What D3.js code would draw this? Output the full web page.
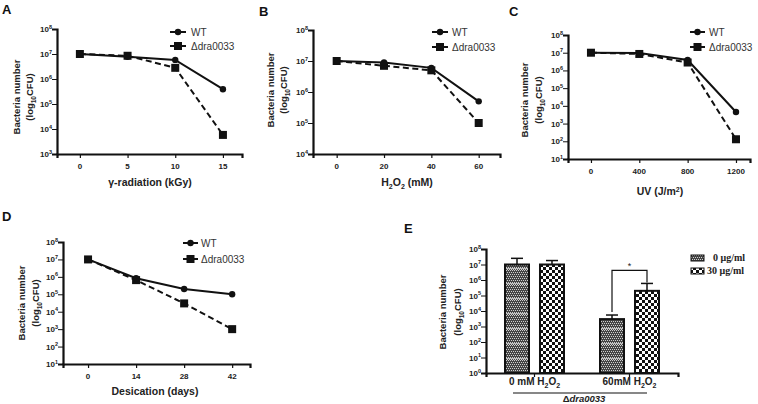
<!DOCTYPE html>
<html><head><meta charset="utf-8">
<script src="https://cdn.jsdelivr.net/npm/d3@7"></script>
<style>body{margin:0;background:#fff}svg{display:block;font-family:"Liberation Sans",Arial,sans-serif}</style>
</head><body>
<svg id="c" width="758" height="404"></svg>
<script>
// ---- data ----
const gammaDose = [0, 5, 10, 15];
const gammaWT   = [1e7, 7.7e6, 5.8e6, 3.9e5];
const gammaMut  = [1e7, 8.5e6, 2.8e6, 5.8e3];
const h2o2Dose  = [0, 20, 40, 60];
const h2o2WT    = [1e7, 9e6, 6e6, 5e5];
const h2o2Mut   = [1e7, 7e6, 5e6, 1e5];
const uvDose    = [0, 400, 800, 1200];
const uvWT      = [1e7, 9.5e6, 3.9e6, 4.5e3];
const uvMut     = [1e7, 8.5e6, 2.8e6, 1.3e2];
const desDays   = [0, 14, 28, 42];
const desWT     = [1e7, 8.4e5, 2e5, 1e5];
const desMut    = [1e7, 6.5e5, 3e4, 1e3];
const seriesNames = ["WT", "\u0394dra0033"];
const eGroups   = ["0 mM", "60mM"];
const eSeries   = ["0 \u03bcg/ml", "30 \u03bcg/ml"];
const eMean0    = [1e7, 3e3];
const eErr0     = [2.5e7, 5.5e3];
const eMean30   = [1e7, 2e5];
const eErr30    = [1.8e7, 6e5];

const svg = d3.select("#c");
const defs = svg.append("defs");
// patterns
const p1 = defs.append("pattern").attr("id","pat1").attr("patternUnits","userSpaceOnUse").attr("width",2).attr("height",15);
p1.append("rect").attr("width",2).attr("height",15).attr("fill","#444");
for (let y=0;y<15;y+=2){ p1.append("rect").attr("x",(y/2)%2).attr("y",y).attr("width",1).attr("height",1).attr("fill","#cfcfcf"); }
p1.append("rect").attr("y",13).attr("width",2).attr("height",1).attr("fill","#bcbcbc");
const p2 = defs.append("pattern").attr("id","pat2").attr("patternUnits","userSpaceOnUse").attr("width",6).attr("height",6);
p2.append("rect").attr("width",6).attr("height",6).attr("fill","#fff");
p2.append("rect").attr("width",3).attr("height",3).attr("fill","#111");
p2.append("rect").attr("x",3).attr("y",3).attr("width",3).attr("height",3).attr("fill","#111");

function powLabel(g, x, y, e, anchor) {
  const t = g.append("text").attr("x",x).attr("y",y).attr("text-anchor",anchor||"end")
    .attr("font-size",8).attr("font-weight","bold").attr("fill","#222");
  t.append("tspan").text("10");
  t.append("tspan").attr("dy",-3.5).attr("font-size",5.5).text(e);
}

function yTitle(x1, x2, yc) {
  svg.append("text").attr("transform",`translate(${x1},${yc}) rotate(-90)`).attr("text-anchor","middle")
    .attr("font-size",9.5).attr("font-weight","bold").attr("fill","#222").text("Bacteria number");
  const t = svg.append("text").attr("transform",`translate(${x2},${yc}) rotate(-90)`).attr("text-anchor","middle")
    .attr("font-size",9.5).attr("font-weight","bold").attr("fill","#222");
  t.append("tspan").text("(log");
  t.append("tspan").attr("dy",2.5).attr("font-size",6.5).text("10");
  t.append("tspan").attr("dy",-2.5).text("CFU)");
}

function logAxis(y, x0, lo, hi) {
  const majors = [], minors = [];
  for (let k=lo;k<=hi;k++){ majors.push(Math.pow(10,k)); if(k<hi) for(let m=2;m<10;m++) minors.push(m*Math.pow(10,k)); }
  const g = svg.append("g").attr("transform",`translate(${x0},0)`);
  g.call(d3.axisLeft(y).tickValues(minors).tickSize(3).tickFormat(""));
  g.call(d3.axisLeft(y).tickValues(majors).tickSize(5).tickFormat(""));
  g.selectAll("path").attr("stroke","#111").attr("stroke-width",2.2);
  g.selectAll("line").attr("stroke","#111").attr("stroke-width",1);
  majors.forEach((v,i)=>powLabel(svg, x0-5, y(v)+3, lo+i));
}

function linePanel(cfg) {
  const x = d3.scaleLinear().domain(cfg.xd).range([cfg.x0, cfg.x1]);
  const y = d3.scaleLog().domain([Math.pow(10,cfg.lo), Math.pow(10,cfg.hi)]).range([cfg.yb, cfg.yt]);
  logAxis(y, cfg.x0, cfg.lo, cfg.hi);
  const gx = svg.append("g").attr("transform",`translate(0,${cfg.yb})`)
    .call(d3.axisBottom(x).tickValues(cfg.ticks).tickSize(4).tickFormat(""));
  gx.select("path").attr("stroke","#111").attr("stroke-width",2.2);
  gx.selectAll("line").attr("stroke","#111").attr("stroke-width",1.2);
  cfg.ticks.forEach(t=>svg.append("text").attr("x",x(t)).attr("y",cfg.yb+15).attr("text-anchor","middle")
    .attr("font-size",8).attr("font-weight","bold").attr("fill","#222").text(t));
  const line = d3.line().x(d=>x(d[0])).y(d=>y(d[1]));
  const dWT = cfg.xs.map((v,i)=>[v,cfg.wt[i]]), dM = cfg.xs.map((v,i)=>[v,cfg.mut[i]]);
  svg.append("path").attr("d",line(dM)).attr("fill","none").attr("stroke","#111").attr("stroke-width",2).attr("stroke-dasharray","6,3.5");
  svg.append("path").attr("d",line(dWT)).attr("fill","none").attr("stroke","#111").attr("stroke-width",2);
  dM.forEach(d=>svg.append("rect").attr("x",x(d[0])-4).attr("y",y(d[1])-4).attr("width",8).attr("height",8).attr("fill","#111"));
  dWT.forEach(d=>svg.append("circle").attr("cx",x(d[0])).attr("cy",y(d[1])).attr("r",3.2).attr("fill","#111"));
  // legend
  const L = cfg.leg;
  svg.append("line").attr("x1",L.lx0).attr("x2",L.lx1).attr("y1",L.y1).attr("y2",L.y1).attr("stroke","#111").attr("stroke-width",2);
  svg.append("circle").attr("cx",(L.lx0+L.lx1)/2).attr("cy",L.y1).attr("r",3.2).attr("fill","#111");
  svg.append("line").attr("x1",L.lx0).attr("x2",L.lx1).attr("y1",L.y2).attr("y2",L.y2).attr("stroke","#111").attr("stroke-width",2);
  svg.append("rect").attr("x",(L.lx0+L.lx1)/2-4).attr("y",L.y2-4).attr("width",8).attr("height",8).attr("fill","#111");
  svg.append("text").attr("x",L.tx).attr("y",L.y1+3.5).attr("font-size",10).attr("fill","#333").text(seriesNames[0]);
  svg.append("text").attr("x",L.tx).attr("y",L.y2+3.5).attr("font-size",10).attr("fill","#333").text(seriesNames[1]);
  // panel letter
  svg.append("text").attr("x",cfg.lab[0]).attr("y",cfg.lab[1]).attr("font-size",13).attr("font-weight","bold").attr("fill","#111").text(cfg.letter);
  yTitle(cfg.yl[0], cfg.yl[1], cfg.yl[2]);
  const xt = svg.append("text").attr("x",cfg.xt[0]).attr("y",cfg.xt[1]).attr("text-anchor","middle")
    .attr("font-size",10.5).attr("font-weight","bold").attr("fill","#222");
  cfg.xtitle(xt);
}

linePanel({letter:"A", lab:[2,14], xd:[-2.4,17], x0:57, x1:242, yt:29, yb:154, lo:3, hi:8,
  ticks:gammaDose, xs:gammaDose, wt:gammaWT, mut:gammaMut,
  leg:{lx0:170, lx1:186, tx:191, y1:32, y2:46}, yl:[20,33,97], xt:[150,186],
  xtitle:t=>t.text("\u03b3-radiation (kGy)")});
linePanel({letter:"B", lab:[259,16], xd:[-10,69], x0:313, x1:500, yt:30, yb:154, lo:4, hi:8,
  ticks:h2o2Dose, xs:h2o2Dose, wt:h2o2WT, mut:h2o2Mut,
  leg:{lx0:432, lx1:448, tx:452, y1:32, y2:47}, yl:[274,287,90], xt:[407,186],
  xtitle:t=>{t.append("tspan").text("H");t.append("tspan").attr("dy",2.5).attr("font-size",7).text("2");
    t.append("tspan").attr("dy",-2.5).text("O");t.append("tspan").attr("dy",2.5).attr("font-size",7).text("2");
    t.append("tspan").attr("dy",-2.5).text(" (mM)");}});
linePanel({letter:"C", lab:[509,16], xd:[-190,1316], x0:568, x1:750, yt:35, yb:159, lo:1, hi:8,
  ticks:uvDose, xs:uvDose, wt:uvWT, mut:uvMut,
  leg:{lx0:690, lx1:705, tx:709, y1:32, y2:47}, yl:[528,542,100], xt:[660,195],
  xtitle:t=>{t.append("tspan").text("UV (J/m");t.append("tspan").attr("dy",-3.5).attr("font-size",7).text("2");
    t.append("tspan").attr("dy",3.5).text(")");}});
linePanel({letter:"D", lab:[2,221], xd:[-7.3,47.2], x0:63, x1:250, yt:242, yb:364, lo:1, hi:8,
  ticks:desDays, xs:desDays, wt:desWT, mut:desMut,
  leg:{lx0:183, lx1:198, tx:201, y1:243, y2:259}, yl:[25,39,303], xt:[155,395],
  xtitle:t=>t.text("Desication (days)")});

// ---- panel E ----
(function(){
  const x0 = 486, x1 = 678, yt = 249, yb = 373;
  const x = d3.scaleBand().domain(eGroups).range([x0,x1]).paddingInner(0.379).paddingOuter(0.2);
  const xi = d3.scaleBand().domain(eSeries).range([0,x.bandwidth()]).paddingInner(0.314);
  const y = d3.scaleLog().domain([1,1e8]).range([yb,yt]);
  logAxis(y, x0, 0, 8);
  const gx = svg.append("g").attr("transform",`translate(0,${yb})`)
    .call(d3.axisBottom(x).tickSize(4).tickFormat(""));
  gx.select("path").attr("stroke","#111").attr("stroke-width",2.2);
  gx.selectAll("line").attr("stroke","#111").attr("stroke-width",1.2);
  const means = [eMean0, eMean30], errs = [eErr0, eErr30], pats = ["url(#pat1)","url(#pat2)"];
  eGroups.forEach((g,gi)=>{
    eSeries.forEach((s,si)=>{
      const bx = x(g)+xi(s), bw = xi.bandwidth(), cx = bx+bw/2;
      svg.append("line").attr("x1",cx).attr("x2",cx).attr("y1",y(means[si][gi])).attr("y2",y(errs[si][gi])).attr("stroke","#111").attr("stroke-width",1.5);
      svg.append("line").attr("x1",cx-6).attr("x2",cx+6).attr("y1",y(errs[si][gi])).attr("y2",y(errs[si][gi])).attr("stroke","#111").attr("stroke-width",1.5);
      svg.append("rect").attr("x",bx).attr("y",y(means[si][gi])).attr("width",bw).attr("height",yb-y(means[si][gi]))
        .attr("fill",pats[si]).attr("stroke","#111").attr("stroke-width",2);
    });
    const t = svg.append("text").attr("x",x(g)+x.bandwidth()/2).attr("y",yb+12).attr("text-anchor","middle")
      .attr("font-size",10).attr("font-weight","bold").attr("fill","#222");
    t.append("tspan").text(g+" H");t.append("tspan").attr("dy",2.5).attr("font-size",7).text("2");
    t.append("tspan").attr("dy",-2.5).text("O");t.append("tspan").attr("dy",2.5).attr("font-size",7).text("2");
  });
  // significance bracket
  const g2 = eGroups[1];
  const lx = x(g2)+xi(eSeries[0])+xi.bandwidth()/2, rx = x(g2)+xi(eSeries[1])+xi.bandwidth()/2;
  const by = y(eErr30[1]) - 13;
  svg.append("path").attr("d",`M${lx},${y(eErr0[1])-3}V${by}H${rx}V${y(eErr30[1])-1}`).attr("fill","none").attr("stroke","#111").attr("stroke-width",1.2);
  svg.append("text").attr("x",(lx+rx)/2).attr("y",by-1).attr("text-anchor","middle").attr("font-size",9).attr("fill","#222").text("*");
  // underline + strain label
  svg.append("line").attr("x1",513).attr("x2",647).attr("y1",393).attr("y2",393).attr("stroke","#111").attr("stroke-width",1.2);
  const st = svg.append("text").attr("x",584).attr("y",402).attr("text-anchor","middle").attr("font-size",9.5)
    .attr("font-weight","bold").attr("fill","#222");
  st.append("tspan").text("\u0394");
  st.append("tspan").attr("font-style","italic").text("dra0033");
  // legend
  eSeries.forEach((s,i)=>{
    const ly = 255 + i*13;
    svg.append("rect").attr("x",691).attr("y",ly).attr("width",13).attr("height",6).attr("fill",pats[i]).attr("stroke","#111").attr("stroke-width",1);
    svg.append("text").attr("x",i===0?713:707).attr("y",ly+6).attr("font-family","'Liberation Serif','DejaVu Serif',serif")
      .attr("font-size",10).attr("font-weight","bold").attr("fill","#222").text(s);
  });
  svg.append("text").attr("x",404).attr("y",233).attr("font-size",13).attr("font-weight","bold").attr("fill","#111").text("E");
  yTitle(446, 461, 312);
})();
</script>
</body></html>
